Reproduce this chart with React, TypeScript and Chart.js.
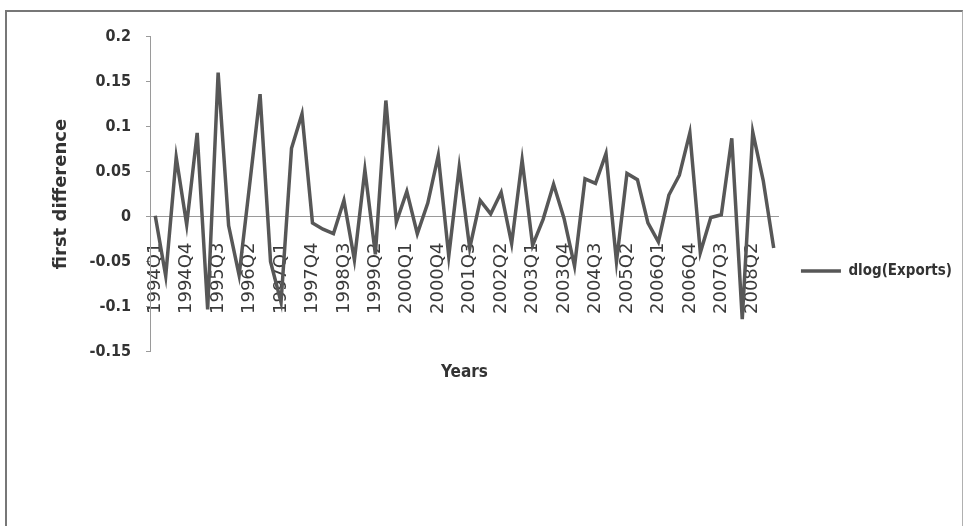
import React, { useEffect, useRef } from 'react';
import { Chart, registerables } from 'chart.js';

Chart.register(...registerables);

const quarters = [
  '1994Q1', '1994Q2', '1994Q3', '1994Q4',
  '1995Q1', '1995Q2', '1995Q3', '1995Q4',
  '1996Q1', '1996Q2', '1996Q3', '1996Q4',
  '1997Q1', '1997Q2', '1997Q3', '1997Q4',
  '1998Q1', '1998Q2', '1998Q3', '1998Q4',
  '1999Q1', '1999Q2', '1999Q3', '1999Q4',
  '2000Q1', '2000Q2', '2000Q3', '2000Q4',
  '2001Q1', '2001Q2', '2001Q3', '2001Q4',
  '2002Q1', '2002Q2', '2002Q3', '2002Q4',
  '2003Q1', '2003Q2', '2003Q3', '2003Q4',
  '2004Q1', '2004Q2', '2004Q3', '2004Q4',
  '2005Q1', '2005Q2', '2005Q3', '2005Q4',
  '2006Q1', '2006Q2', '2006Q3', '2006Q4',
  '2007Q1', '2007Q2', '2007Q3', '2007Q4',
  '2008Q1', '2008Q2', '2008Q3', '2008Q4',
];

const dlogExports = [
  0.001, -0.066, 0.066, -0.009,
  0.093, -0.103, 0.160, -0.010,
  -0.065, 0.035, 0.136, -0.050,
  -0.095, 0.076, 0.114, -0.007,
  -0.014, -0.019, 0.018, -0.048,
  0.052, -0.042, 0.129, -0.006,
  0.028, -0.019, 0.015, 0.068,
  -0.044, 0.055, -0.035, 0.018,
  0.003, 0.027, -0.030, 0.063,
  -0.032, -0.003, 0.036, -0.002,
  -0.055, 0.042, 0.037, 0.070,
  -0.050, 0.048, 0.041, -0.007,
  -0.028, 0.024, 0.046, 0.093,
  -0.040, -0.001, 0.002, 0.087,
  -0.114, 0.094, 0.040, -0.035,
];

const shownLabels = [
  '1994Q1', '1994Q4', '1995Q3', '1996Q2', '1997Q1', '1997Q4', '1998Q3',
  '1999Q2', '2000Q1', '2000Q4', '2001Q3', '2002Q2', '2003Q1', '2003Q4',
  '2004Q3', '2005Q2', '2006Q1', '2006Q4', '2007Q3', '2008Q2',
];

const yTickValues = [-0.15, -0.1, -0.05, 0, 0.05, 0.1, 0.15, 0.2];

const seriesName = 'dlog(Exports)';
const xTitle = 'Years';
const yTitle = 'first difference';

const narrowBold = "'DejaVu Sans Condensed', 'Liberation Sans Narrow', Roboto, sans-serif";

export default function App() {
  const canvasRef = useRef<HTMLCanvasElement | null>(null);

  useEffect(() => {
    const canvas = canvasRef.current;
    if (!canvas) return;
    const chart = new Chart(canvas, {
      type: 'line',
      data: {
        labels: quarters,
        datasets: [
          {
            label: seriesName,
            data: dlogExports,
            xAxisID: 'x',
            yAxisID: 'y',
            borderColor: '#575757',
            backgroundColor: '#575757',
            borderWidth: 3.5,
            pointRadius: 0,
            pointHoverRadius: 0,
            tension: 0,
            fill: false,
          },
        ],
      },
      options: {
        animation: false,
        responsive: false,
        events: [],
        layout: { padding: { top: 24, left: 0, right: 0, bottom: 20 } },
        plugins: {
          tooltip: { enabled: false },
          legend: {
            position: 'right',
            align: 'center',
            fullSize: true,
            labels: {
              usePointStyle: true,
              pointStyle: 'line',
              pointStyleWidth: 40,
              padding: 22,
              color: '#333333',
              font: { family: narrowBold, size: 15, weight: 'bold' },
            },
          },
        },
        scales: {
          x: {
            type: 'category',
            position: { y: 0 },
            offset: true,
            grid: { display: false, drawTicks: false },
            border: { display: true, color: '#9a9a9a', width: 1, dash: [2, 2] },
            ticks: {
              autoSkip: false,
              minRotation: 90,
              maxRotation: 90,
              padding: 26,
              color: '#3a3a3a',
              font: { family: "'DejaVu Sans', sans-serif", size: 18 },
              callback: (_v: any, index: number) => {
                const l = quarters[index];
                return shownLabels.includes(l) ? l : '';
              },
            },
          },
          x2: {
            type: 'category',
            position: 'bottom',
            labels: quarters,
            offset: true,
            grid: { display: false, drawTicks: false },
            border: { display: false },
            ticks: { display: false },
            title: {
              display: true,
              text: xTitle,
              color: '#333333',
              font: { family: narrowBold, size: 17, weight: 'bold' },
              padding: { top: 11, bottom: 123 },
            },
          },
          y: {
            type: 'linear',
            position: 'left',
            min: yTickValues[0],
            max: yTickValues[yTickValues.length - 1],
            afterBuildTicks: (scale: any) => {
              scale.ticks = yTickValues.map((v) => ({ value: v }));
            },
            afterFit: (scale: any) => {
              scale.width = 143;
            },
            grid: {
              display: true,
              drawOnChartArea: false,
              drawTicks: true,
              tickLength: 4,
              color: '#9a9a9a',
            },
            border: { display: true, color: '#9a9a9a', width: 1 },
            ticks: {
              padding: 15,
              color: '#333333',
              font: { family: narrowBold, size: 16, weight: 'bold' },
              callback: (v: any) => String(Number(Number(v).toFixed(2))),
            },
            title: {
              display: true,
              text: yTitle,
              color: '#333333',
              font: { family: "'DejaVu Sans', sans-serif", size: 18, weight: 'bold' },
              padding: { top: 44, bottom: 0 },
            },
          },
        },
      },
    } as any);
    return () => {
      chart.destroy();
    };
  }, []);

  return (
    <div
      style={{
        position: 'absolute',
        left: 5,
        top: 10,
        width: 955,
        height: 514,
        borderTop: '2px solid #777',
        borderLeft: '2px solid #777',
        borderRight: '1px solid #b0b0b0',
        background: '#ffffff',
      }}
    >
      <canvas
        ref={canvasRef}
        width={955}
        height={514}
        style={{ display: 'block', width: 955, height: 514 }}
      />
    </div>
  );
}
